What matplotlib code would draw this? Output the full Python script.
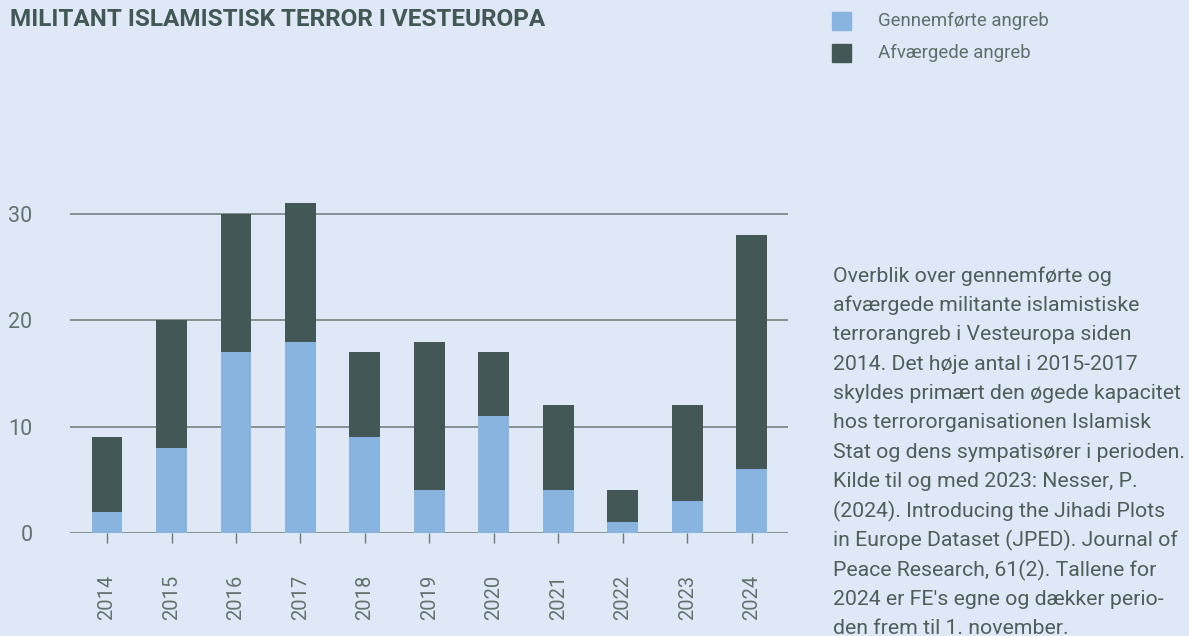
import matplotlib.pyplot as plt
import numpy as np

# Data
years = ['2014', '2015', '2016', '2017', '2018', '2019', '2020', '2021', '2022', '2023', '2024']
carried_out = [2, 8, 17, 18, 9, 4, 11, 4, 1, 3, 6]
prevented = [7, 12, 13, 13, 8, 14, 6, 8, 3, 9, 22]
series_labels = ['Gennemførte angreb', 'Afværgede angreb']
yticks = [0, 10, 20, 30]

title = 'MILITANT ISLAMISTISK TERROR I VESTEUROPA'
note_lines = [
    'Overblik over gennemførte og',
    'afværgede militante islamistiske',
    'terrorangreb i Vesteuropa siden',
    '2014. Det høje antal i 2015-2017',
    'skyldes primært den øgede kapacitet',
    'hos terrororganisationen Islamisk',
    'Stat og dens sympatisører i perioden.',
    'Kilde til og med 2023: Nesser, P.',
    '(2024). Introducing the Jihadi Plots',
    'in Europe Dataset (JPED). Journal of',
    'Peace Research, 61(2). Tallene for',
    "2024 er FE's egne og dækker perio-",
    'den frem til 1. november.',
]

bg = '#dfe8f6'
light = '#8ab4e0'
dark = '#435856'
grid_col = '#6b7b79'
tick_txt = '#62726f'
text_col = '#4e5e5c'

plt.rcParams['font.family'] = ['Roboto', 'DejaVu Sans']

W, H = 1189, 636
fig = plt.figure(figsize=(W / 100, H / 100), dpi=100, facecolor=bg)

# axes box in pixel coordinates
x0, x1, ybase, ytop = 70, 788, 533, 180
ax = fig.add_axes([x0 / W, 1 - ybase / H, (x1 - x0) / W, (ybase - ytop) / H])
ax.set_facecolor(bg)

x = np.arange(len(years))
ax.bar(x, carried_out, width=0.48, color=light, zorder=3, label=series_labels[0])
ax.bar(x, prevented, width=0.48, bottom=carried_out, color=dark, zorder=3, label=series_labels[1])

ax.set_xlim(-0.574, len(years) - 1 + 0.56)
ax.set_ylim(0, (ybase - ytop) / 10.63)

for v in yticks:
    ax.axhline(v, color=grid_col, linewidth=1.1, zorder=2)

for s in ax.spines.values():
    s.set_visible(False)

ax.set_yticks(yticks)
ax.set_yticklabels([str(v) for v in yticks], fontsize=15.5, color=tick_txt)
ax.tick_params(axis='y', length=0, pad=27)

ax.set_xticks(x)
ax.set_xticklabels(years, rotation=90, fontsize=14.5, color=tick_txt)
ax.tick_params(axis='x', length=7, width=1, color=grid_col, pad=23, direction='out')

# title
fig.text(10 / W, 1 - 19 / H, title, fontsize=17.5, fontweight='bold', color=dark,
         ha='left', va='center')

# legend drawn as squares + text
leg_y = [21, 53]
for yy, col, lab in zip(leg_y, [light, dark], series_labels):
    fig.patches.append(plt.Rectangle((832 / W, 1 - (yy + 9) / H), 19 / W, 18 / H,
                                     transform=fig.transFigure, color=col, figure=fig))
    fig.text(878 / W, 1 - yy / H, lab, fontsize=13.4, color='#5f6f6d', ha='left', va='center')

# explanatory note
for i, line in enumerate(note_lines):
    fig.text(833 / W, 1 - (276 + i * 29.4) / H, line, fontsize=15.3, color=text_col,
             ha='left', va='center')

fig.savefig('out.png', dpi=100, facecolor=bg)
